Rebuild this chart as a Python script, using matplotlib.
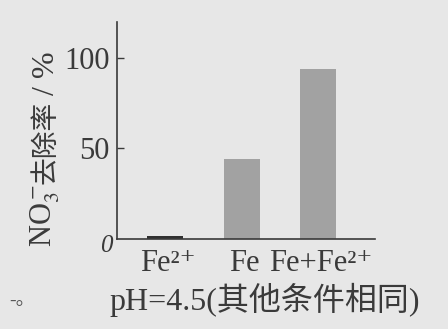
import matplotlib
matplotlib.use("Agg")
from matplotlib import pyplot as plt
from matplotlib import transforms

plt.rcParams['font.family'] = ['Liberation Serif', 'DejaVu Serif', 'Noto Sans CJK SC']
plt.rcParams['mathtext.fontset'] = 'stix'

# removal rate for each reductant
labels = ["Fe²⁺", "Fe", "Fe+Fe²⁺"]
removal = [1.5, 44, 94]
bar_colors = ["#303030", "#a2a2a2", "#a2a2a2"]
yticks = [50, 100]

bg = "#e7e7e7"
ink = "#3a3a3a"

fig = plt.figure(figsize=(4.48, 3.29), dpi=100, facecolor=bg)
ax = fig.add_axes([0.261, 0.274, 0.576, 0.66], facecolor=bg)

xs = list(range(len(removal)))
ax.bar(xs, removal, width=0.47, color=bar_colors, zorder=2)

ax.set_xlim(-0.63, 2.745)
ax.set_ylim(0, 120)

for side in ["top", "right"]:
    ax.spines[side].set_visible(False)
for side in ["left", "bottom"]:
    ax.spines[side].set_color(ink)
    ax.spines[side].set_linewidth(1.2)

ax.set_yticks(yticks)
ax.set_yticklabels([str(v) for v in yticks], fontsize=22, color=ink)
ax.tick_params(axis="y", direction="in", length=5, width=1, color=ink, pad=5)

# category names on a common baseline
ax.set_xticks(xs)
ax.set_xticklabels([])
ax.tick_params(axis="x", length=0)
trans = transforms.blended_transform_factory(ax.transData, fig.transFigure)
for x, lab in zip(xs, labels):
    ax.text(x + 0.04, 1 - 271 / 329, lab, transform=trans, fontsize=22,
            color=ink, ha="center", va="baseline")

# italic origin
ax.text(-0.69, -4, "0", fontsize=18, style="italic", color=ink,
        ha="right", va="center")

# y label: chemical formula + chinese text, stacked bottom to top
fig.text(0.100, 1 - 247 / 329, "NO$_3^-$", rotation=90, fontsize=22,
         color=ink, ha="center", va="bottom")
fig.text(0.103, 1 - 184 / 329, "去除率", rotation=90, fontsize=20,
         color=ink, ha="center", va="bottom")
fig.text(0.103, 1 - 95 / 329, "/ %", rotation=90, fontsize=23,
         color=ink, ha="center", va="bottom")

fig.text(0.59, 1 - 300 / 329, "pH=4.5(其他条件相同)", fontsize=23,
         color=ink, ha="center", va="center")
fig.text(0.02, 1 - 300 / 329, "-。", fontsize=14, color="#555555",
         ha="left", va="center")

fig.savefig("out.png", dpi=100, facecolor=bg)
